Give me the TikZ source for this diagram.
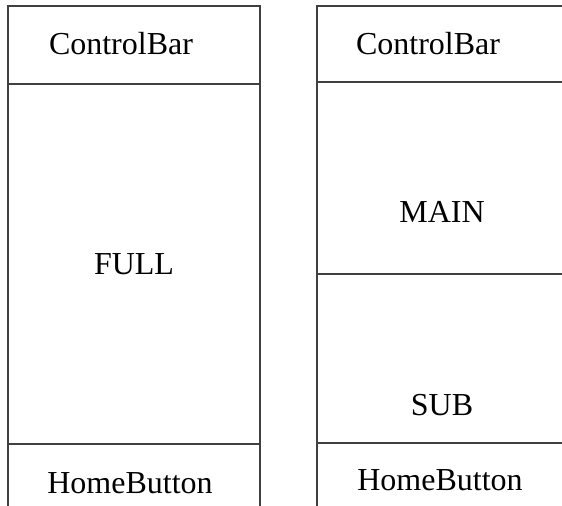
\documentclass[tikz,border=0pt]{standalone}
\usepackage{fontspec}
\setmainfont{Liberation Serif}
\begin{document}
\begin{tikzpicture}[x=0.5pt,y=-0.5pt,
        etichetta/.style={font=\fontsize{16}{19}\selectfont, inner sep=0pt, anchor=base},
        bordo/.style={draw=black!75, line width=0.6pt}]
        \useasboundingbox (0,0) rectangle (562,506);
        \clip (0,0) rectangle (562,506);

        %%%%%%%%%% Schermo intero %%%%%%%%%%
        \draw[bordo] (8,506) -- (8,6) -- (260,6) -- (260,506);
        \foreach \y in {84,444}
            \draw[bordo] (8,\y) -- ++(252,0);

        %%%%%%%%%% Schermo diviso %%%%%%%%%%
        \draw[bordo] (317,506) -- (317,6) -- ++(270,0);
        \foreach \y in {82,274,443}
            \draw[bordo] (317,\y) -- ++(270,0);

        %%%%%%%%%% Testo %%%%%%%%%%
        \node[etichetta] (barraA) at (121,55) {ControlBar};
        \node[etichetta] (full) at (134,275) {FULL};
        \node[etichetta] (homeA) at (130,494) {HomeButton};

        \node[etichetta] (barraB) at (428,55) {ControlBar};
        \node[etichetta] (main) at (442,223) {MAIN};
        \node[etichetta] (sub) at (442,416) {SUB};
        \node[etichetta] (homeB) at (440,491) {HomeButton};
    \end{tikzpicture}
\end{document}
